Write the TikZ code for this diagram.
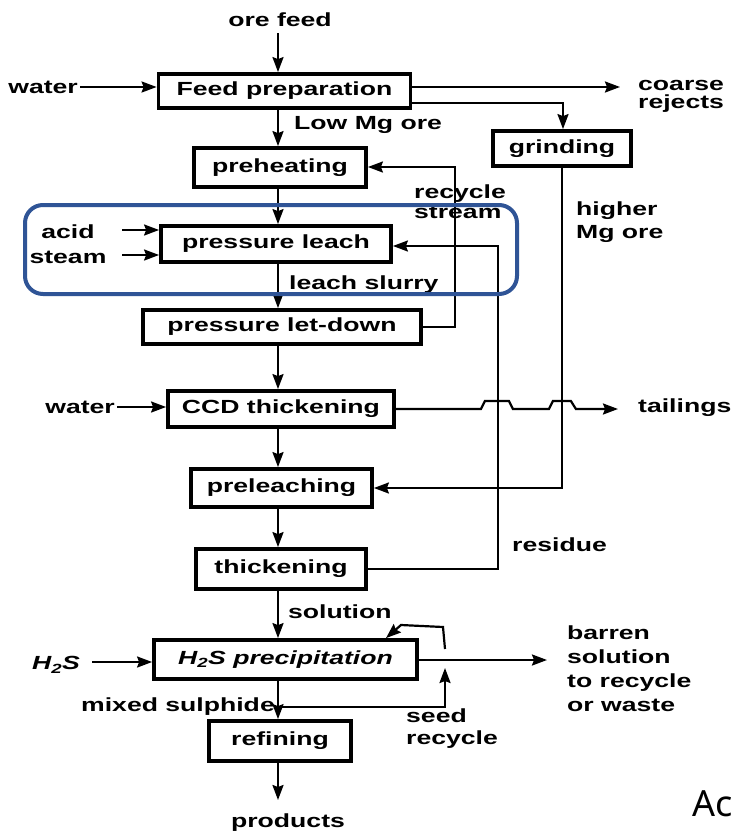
\documentclass[tikz,border=0pt]{standalone}
\usepackage{fontspec}
\setmainfont{Liberation Sans}[FakeStretch=1.4]
\newfontfamily\acfont{Noto Sans}
\usetikzlibrary{arrows.meta,calc}
\definecolor{hlblue}{RGB}{47,84,150}
\begin{document}
\begin{tikzpicture}[x=1pt,y=-1pt,
  every node/.style={font=\fontsize{19}{22}\selectfont\bfseries, inner sep=0pt},
  box/.style={draw, line width=3.8pt, align=center},
  lbl/.style={align=left},
  arr/.style={line width=2.2pt, -{Stealth[length=15pt,width=11pt,inset=2pt]}},
  ln/.style={line width=2.2pt}]
\useasboundingbox (0,0) rectangle (731,833);
\fill[white] (0,0) rectangle (731,833);
\coordinate (mx) at (278,0);

% process boxes
\node[box, minimum width=252, minimum height=34] (feed) at (284.5,91) {Feed preparation};
\node[box, minimum width=172, minimum height=39] (preheat) at (280,167.5) {preheating};
\node[box, minimum width=230, minimum height=36] (pleach) at (276,244) {pressure leach};
\node[box, minimum width=278, minimum height=34] (letdown) at (282,327) {pressure let-down};
\node[box, minimum width=226, minimum height=36] (ccd) at (281,409) {CCD thickening};
\node[box, minimum width=181, minimum height=38] (preleach) at (281.5,488) {preleaching};
\node[box, minimum width=170, minimum height=40] (thick) at (281,569) {thickening};
\node[box, minimum width=263, minimum height=39] (h2s) at (285.5,659.5) {\itshape H\textsubscript{2}S precipitation};
\node[box, minimum width=142, minimum height=40] (refine) at (280,741) {refining};
\node[box, minimum width=138, minimum height=35] (grind) at (562,148.5) {grinding};

% labels
\node (ore) at (280,20) {ore feed};
\node[anchor=east] (water1) at (78,87) {water};
\node[lbl, anchor=west, font=\fontsize{19}{18}\selectfont\bfseries] (coarse) at (638,96) {coarse\\rejects};
\node[anchor=west] (lowmg) at (294,125) {Low Mg ore};
\node[lbl, anchor=west, font=\fontsize{19}{20}\selectfont\bfseries] (recyc) at (414,202) {recycle\\stream};
\node[lbl, anchor=west, font=\fontsize{19}{23}\selectfont\bfseries] (higher) at (576,222) {higher\\Mg ore};
\node (acid) at (68,232) {acid};
\node (steam) at (68,257) {steam};
\node[anchor=west] (slurry) at (289,285) {leach slurry};
\node[anchor=east] (water2) at (115,407) {water};
\node[anchor=west] (tail) at (638,408) {tailings};
\node[anchor=west] (residue) at (512,545) {residue};
\node[anchor=west] (solution) at (288,612) {solution};
\node (h2sin) at (56,665) {\itshape H\textsubscript{2}S};
\node[lbl, anchor=west, font=\fontsize{19}{24}\selectfont\bfseries] (barren) at (567,669) {barren\\solution\\to recycle\\or waste};
\node[anchor=east] (mixed) at (275,707) {mixed sulphide};
\node[lbl, anchor=west, font=\fontsize{19}{22}\selectfont\bfseries] (seed) at (406,729) {seed\\recycle};
\node (products) at (288,823) {products};
\node[anchor=base west, font=\acfont\fontsize{36}{40}\selectfont] (ac) at (692,816) {Ac};

% coordinates
\coordinate (cr) at (620,87);
\coordinate (g1) at (563,103);
\coordinate (rx) at (455,167);
\coordinate (sx) at (498,246);
\coordinate (a1) at (122,230);
\coordinate (s1) at (122,255);
\coordinate (w2) at (117,407);
\coordinate (tend) at (618,409);
\coordinate (hi) at (92,662);
\coordinate (be) at (547,660);
\coordinate (sd) at (445,707);
\coordinate (su) at (445,649);
\coordinate (sv) at (386,0);
\coordinate (pe) at (278,800);

% main line
\draw[arr] (mx |- ore.south) ++(0,6) -- (mx |- feed.north);
\draw[arr] (mx |- feed.south) -- (mx |- preheat.north);
\draw[arr] (mx |- preheat.south) -- (mx |- pleach.north);
\draw[arr] (mx |- pleach.south) -- (mx |- letdown.north);
\draw[arr] (mx |- letdown.south) -- (mx |- ccd.north);
\draw[arr] (mx |- ccd.south) -- (mx |- preleach.north);
\draw[arr] (mx |- preleach.south) -- (mx |- thick.north);
\draw[arr] (mx |- thick.south) -- (mx |- h2s.north);
\draw[arr] (mx |- h2s.south) -- (mx |- refine.north);
\draw[arr] (mx |- refine.south) -- (pe);

% side streams
\draw[arr] (water1.east) ++(2,0) -- (water1.east -| feed.west);
\draw[arr] (cr -| feed.east) -- (cr);
\draw[arr] (g1 -| feed.east) -- (g1) -- (g1 |- grind.north);
\draw[arr] (letdown.east) -| (rx) -- (rx -| preheat.east);
\draw[arr] (thick.east) -| (sx) -- (sx -| pleach.east);
\draw[arr] (a1) -- (a1 -| pleach.west);
\draw[arr] (s1) -- (s1 -| pleach.west);
\draw[arr] (w2) -- (w2 -| ccd.west);
\draw[arr] (ccd.east) -- ++(85,0) -- ++(4,-8) -- ++(24,0) -- ++(4,8) -- ++(36,0)
   -- ++(4,-8) -- ++(18,0) -- ++(5,8) -- (tend);
\draw[arr] (grind.south) |- (preleach.east);
\draw[arr] (hi) -- (hi -| h2s.west);
\draw[arr] (be -| h2s.east) -- (be);
\draw[arr] (mx |- sd) -- (sd) -- ++(0,-39);
\draw[arr] (su) -- ++(-2,-22) -- ++(-42,-2) -- (sv |- h2s.north);

% highlight
\draw[hlblue, line width=4pt, rounded corners=18pt] (25,205) rectangle (517,294);
\end{tikzpicture}
\end{document}
